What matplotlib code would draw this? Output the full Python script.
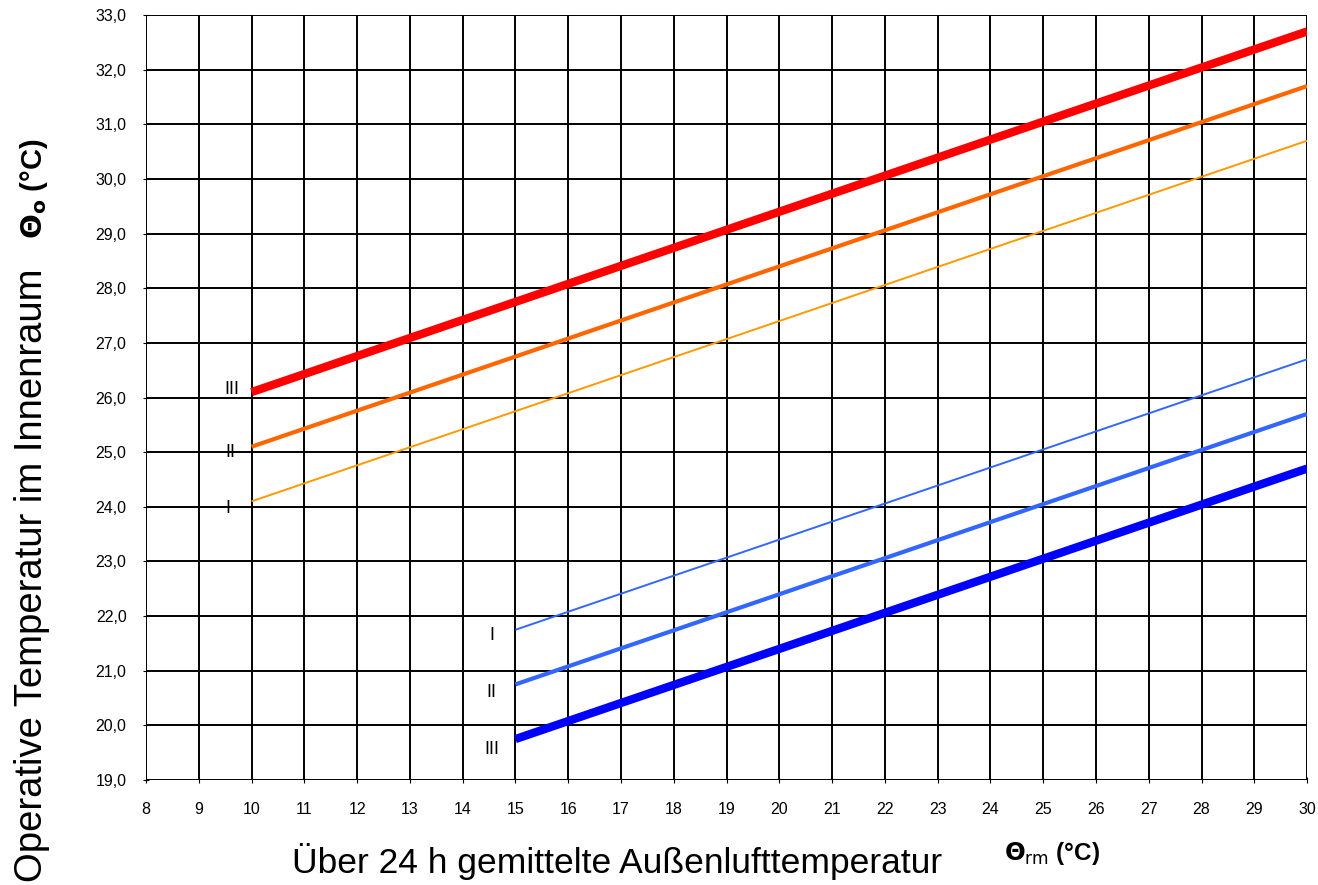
import matplotlib.pyplot as plt

upper_x = [10, 30]
upper_I = [24.1, 30.7]
upper_II = [25.1, 31.7]
upper_III = [26.1, 32.7]

lower_x = [15, 30]
lower_I = [21.75, 26.7]
lower_II = [20.75, 25.7]
lower_III = [19.75, 24.7]

x_ticks = list(range(8, 31))
y_ticks = list(range(19, 34))

plt.rcParams['font.family'] = ['Liberation Sans', 'DejaVu Sans']

fig = plt.figure(figsize=(13.18, 8.85), dpi=100)
ax = fig.add_axes([0.1108, 0.1186, 0.8809, 0.8644])

ax.set_xlim(8, 30)
ax.set_ylim(19, 33)
ax.set_xticks(x_ticks)
ax.set_yticks(y_ticks)
ax.set_yticklabels([('%.1f' % v).replace('.', ',') for v in y_ticks])
ax.tick_params(labelsize=11.5, length=4, direction='inout')
ax.tick_params(axis='x', pad=14)
ax.tick_params(axis='y', pad=12)

ax.grid(True, color='black', linewidth=1.4)
for s in ax.spines.values():
    s.set_visible(False)

# obere Grenzen
ax.plot(upper_x, upper_III, color='#ff0000', linewidth=6, solid_capstyle='butt')
ax.plot(upper_x, upper_II, color='#ff6600', linewidth=3, solid_capstyle='butt')
ax.plot(upper_x, upper_I, color='#ff9900', linewidth=1.4, solid_capstyle='butt')

# untere Grenzen
ax.plot(lower_x, lower_I, color='#3366ff', linewidth=1.4, solid_capstyle='butt')
ax.plot(lower_x, lower_II, color='#3366ff', linewidth=3, solid_capstyle='butt')
ax.plot(lower_x, lower_III, color='#0000ff', linewidth=6, solid_capstyle='butt')

# Kategorie-Beschriftungen
ax.text(9.63, 26.15, 'III', fontsize=13, ha='center', va='center')
ax.text(9.6, 25.0, 'II', fontsize=13, ha='center', va='center')
ax.text(9.55, 23.97, 'I', fontsize=13, ha='center', va='center')
ax.text(14.55, 21.64, 'I', fontsize=13, ha='center', va='center')
ax.text(14.55, 20.6, 'II', fontsize=13, ha='center', va='center')
ax.text(14.55, 19.55, 'III', fontsize=13, ha='center', va='center')

fig.text(0.024, 0.003, 'Operative Temperatur im Innenraum', rotation=90,
         fontsize=27.5, ha='center', va='bottom')
fig.text(0.026, 0.73, r'$\mathbf{\Theta}_\mathbf{o}$ (°C)', rotation=90,
         fontsize=21, fontweight='bold', ha='center', va='bottom')

fig.text(0.468, 0.026, 'Über 24 h gemittelte Außenlufttemperatur',
         fontsize=25.5, ha='center', va='center')
fig.text(0.762, 0.036, r'$\mathbf{\Theta}_\mathrm{rm}$ (°C)',
         fontsize=17.5, fontweight='bold', ha='left', va='center')

fig.savefig('out.png', dpi=100)
